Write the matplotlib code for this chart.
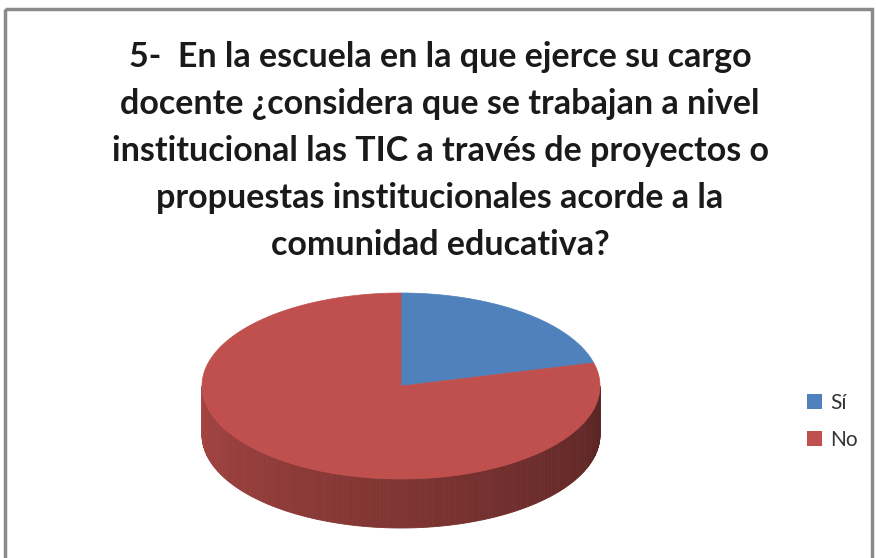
import numpy as np
import matplotlib.pyplot as plt
from matplotlib.patches import Polygon, Rectangle, Patch

# Data
labels = ['Sí', 'No']
values = [21, 79]
colors = ['#4f81bd', '#c0504d']
title_lines = [
    '5-  En la escuela en la que ejerce su cargo',
    'docente ¿considera que se trabajan a nivel',
    'institucional las TIC a través de proyectos o',
    'propuestas institucionales acorde a la',
    'comunidad educativa?',
]

fig = plt.figure(figsize=(8.76, 5.58), dpi=100)
ax = fig.add_axes([0, 0, 1, 1])
ax.set_xlim(0, 876)
ax.set_ylim(558, 0)
ax.axis('off')

# frame around the chart
ax.add_patch(Rectangle((5, 9), 867, 560, fill=False, edgecolor='#8a8a8a', lw=2.5))

# title, one line at a time
for i, line in enumerate(title_lines):
    ax.text(440, 57 + i * 47, line, ha='center', va='center',
            fontsize=24.5, fontweight='bold', family='Lato', color='#1a1a1a')

# 3D pie geometry
cx, cy, rx, ry, depth = 401, 386, 199, 93, 49
fracs = np.array(values) / sum(values)
bounds = 90 - 360 * np.concatenate([[0], np.cumsum(fracs)])


def slice_at(a):
    # which slice covers angle a (degrees, math convention)
    rel = (90 - a) % 360
    return int(np.searchsorted(np.cumsum(fracs) * 360, rel, side='right'))


# side wall, front half only, shaded from left to right
n = 180
angs = np.linspace(180, 360, n + 1)
for a0, a1 in zip(angs[:-1], angs[1:]):
    t = np.radians([a0, a1])
    xs = cx + rx * np.cos(t)
    ys = cy - ry * np.sin(t)
    k = min(slice_at((a0 + a1) / 2), len(values) - 1)
    base = np.array(plt.matplotlib.colors.to_rgb(colors[k]))
    shade = 0.86 - 0.40 * (a0 - 180) / 180
    poly = [(xs[0], ys[0]), (xs[1], ys[1]), (xs[1], ys[1] + depth), (xs[0], ys[0] + depth)]
    ax.add_patch(Polygon(poly, closed=True, facecolor=base * shade, edgecolor=base * shade, lw=0.6))

# top face
for i in range(len(values)):
    t = np.radians(np.linspace(bounds[i], bounds[i + 1], 200))
    pts = [(cx, cy)] + list(zip(cx + rx * np.cos(t), cy - ry * np.sin(t)))
    ax.add_patch(Polygon(pts, closed=True, facecolor=colors[i], edgecolor=colors[i], lw=0.5))

# legend
handles = [Patch(facecolor=c, edgecolor='none') for c in colors]
ax.legend(handles, labels, loc='center left', bbox_to_anchor=(0.9, 0.245),
          frameon=False, handlelength=0.7, handleheight=0.7, handletextpad=0.4,
          labelspacing=0.8, prop={'family': 'Lato', 'size': 15}, labelcolor='#333333')

fig.savefig('out.png', dpi=100)
